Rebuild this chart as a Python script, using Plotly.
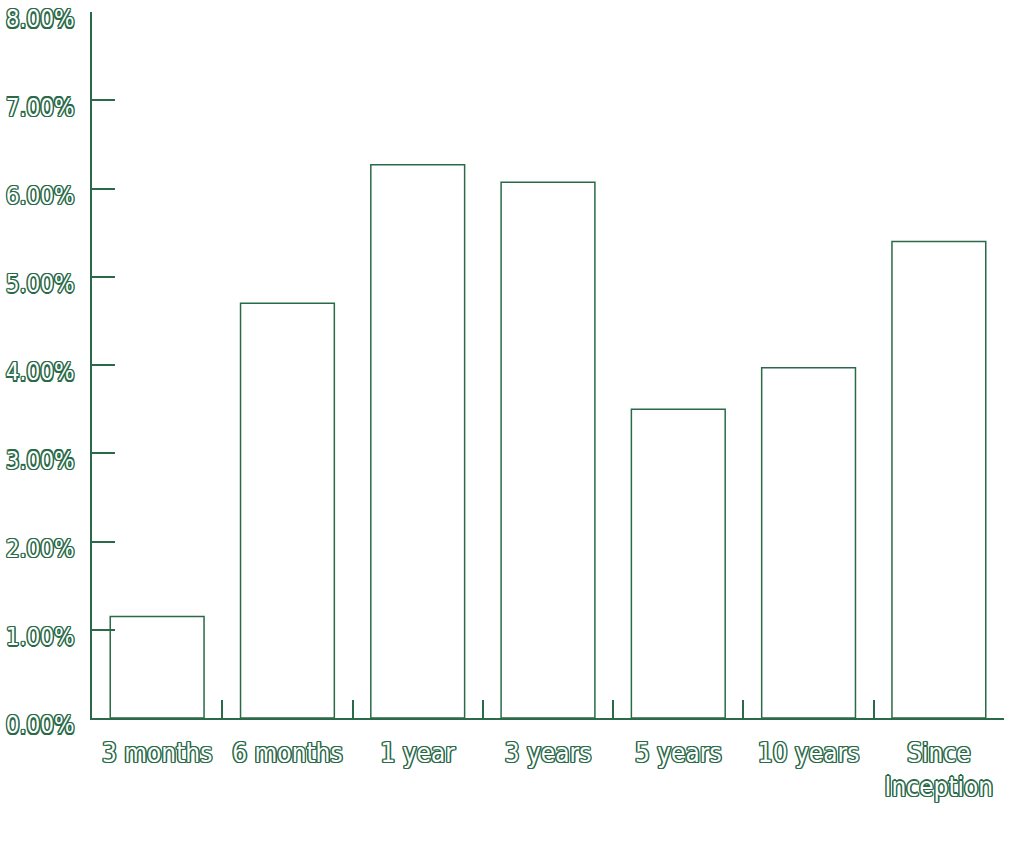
import plotly.graph_objects as go

categories = ["3 months", "6 months", "1 year", "3 years", "5 years", "10 years", "Since<br>Inception"]
values = [1.15, 4.70, 6.27, 6.07, 3.50, 3.97, 5.40]
tick_vals = [0, 1, 2, 3, 4, 5, 6, 7, 8]
tick_text = ["0.00%", "1.00%", "2.00%", "3.00%", "4.00%", "5.00%", "6.00%", "7.00%", "8.00%"]

GREEN = "#2b6a48"
offs = [(-1.2, -1.2), (1.2, -1.2), (-1.2, 1.2), (1.2, 1.2), (0, 1.4), (0, -1.4), (1.4, 0), (-1.4, 0)]
shadow = ", ".join(f"{dx}px {dy}px 0 {GREEN}" for dx, dy in offs)
font = dict(family="DejaVu Sans Condensed, DejaVu Sans, sans-serif", size=24, color="white", shadow=shadow)
xfont = dict(font, size=26)

fig = go.Figure(go.Bar(
    x=categories, y=values,
    marker=dict(color="white", line=dict(color=GREEN, width=1.5)),
    hoverinfo="skip",
))
fig.update_layout(
    width=1024, height=861,
    margin=dict(l=92, r=20, t=12, b=143),
    paper_bgcolor="white", plot_bgcolor="white",
    bargap=0.28,
    showlegend=False,
    font=font,
)
fig.update_xaxes(
    showline=True, linecolor=GREEN, linewidth=1.5,
    ticks="inside", tickson="boundaries", ticklen=18, tickcolor=GREEN, tickwidth=1.5,
    showgrid=False, tickfont=xfont, ticklabelstandoff=11, automargin=False,
)
fig.update_yaxes(
    range=[0, 8.0001], tickvals=tick_vals, ticktext=tick_text,
    showline=True, linecolor=GREEN, linewidth=1.5,
    ticks="inside", ticklen=23, tickcolor=GREEN, tickwidth=1.5,
    showgrid=False, zeroline=False, tickfont=font, ticklabelstandoff=11,
    ticklabelshift=7, automargin=False, ticklabeloverflow="allow",
)
fig.write_html("out.html", config={"displayModeBar": False},
               post_script="document.body.style.margin='0';")
